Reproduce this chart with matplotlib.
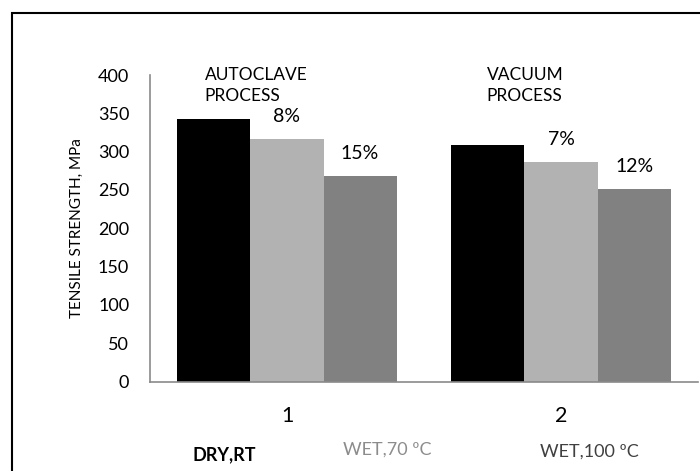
import matplotlib
matplotlib.use("Agg")
import matplotlib.pyplot as plt
from matplotlib.patches import Rectangle
import numpy as np

plt.rcParams['font.family'] = ['Lato', 'DejaVu Sans']

categories = ["1", "2"]
series_names = ["DRY,RT", "WET,70 \u00baC", "WET,100 \u00baC"]
dry_rt = [343, 309]
wet_70 = [316, 286]
wet_100 = [268, 251]
pct_wet70 = ["8%", "7%"]
pct_wet100 = ["15%", "12%"]
process_labels = ["AUTOCLAVE\nPROCESS", "VACUUM\nPROCESS"]
yticks = [0, 50, 100, 150, 200, 250, 300, 350, 400]

colors = ["#000000", "#b2b2b2", "#818181"]

W, H = 700, 471
fig = plt.figure(figsize=(7, 4.71), dpi=100)
ax = fig.add_axes([150 / W, (H - 381.5) / H, (698 - 150) / W, (381.5 - 75) / H])

x = np.arange(len(categories))
bw = 0.8 / 3
for i, vals in enumerate([dry_rt, wet_70, wet_100]):
    ax.bar(x + (i - 1) * bw, vals, width=bw, color=colors[i], edgecolor='none',
           label=series_names[i])

ax.set_xlim(-0.5, 1.5)
ax.set_ylim(0, 400)
ax.set_yticks(yticks)
ax.set_yticklabels([str(t) for t in yticks], fontsize=13)
ax.set_xticks(x)
ax.set_xticklabels(categories, fontsize=15.5)
ax.tick_params(axis='y', length=0, pad=15)
ax.tick_params(axis='x', length=0, pad=18)
for s in ['top', 'right']:
    ax.spines[s].set_visible(False)
ax.spines['left'].set_color('#8a8a8a')
ax.spines['bottom'].set_color('#8a8a8a')
ax.spines['left'].set_linewidth(1.2)
ax.spines['bottom'].set_linewidth(1.2)

ax.set_ylabel("TENSILE STRENGTH, MPa", fontsize=11, labelpad=10)

# process labels
ax.text(-0.3, 411, process_labels[0], fontsize=12.5, ha='left', va='top',
        linespacing=1.4, clip_on=False)
ax.text(0.729, 411, process_labels[1], fontsize=12.5, ha='left', va='top',
        linespacing=1.4, clip_on=False)

# percent labels
for i in range(len(categories)):
    ax.text(x[i], wet_70[i] + 30, pct_wet70[i], fontsize=14, ha='center', va='center')
    ax.text(x[i] + bw, wet_100[i] + 30, pct_wet100[i], fontsize=14, ha='center', va='center')

# bottom legend-like labels
fig.text(224 / W, 1 - 455 / H, series_names[0], fontsize=13, fontweight='bold',
         color='#000000', ha='center', va='center')
fig.text(387 / W, 1 - 450 / H, series_names[1], fontsize=13,
         color='#8c8c8c', ha='center', va='center')
fig.text(589 / W, 1 - 452 / H, series_names[2], fontsize=13,
         color='#404040', ha='center', va='center')

# outer border
fig.patches.append(Rectangle((12 / W, -0.05), 1.2, 1 - 13 / H + 0.05,
                             transform=fig.transFigure, fill=False,
                             edgecolor='black', linewidth=1.5))

fig.savefig("out.png", dpi=100)
